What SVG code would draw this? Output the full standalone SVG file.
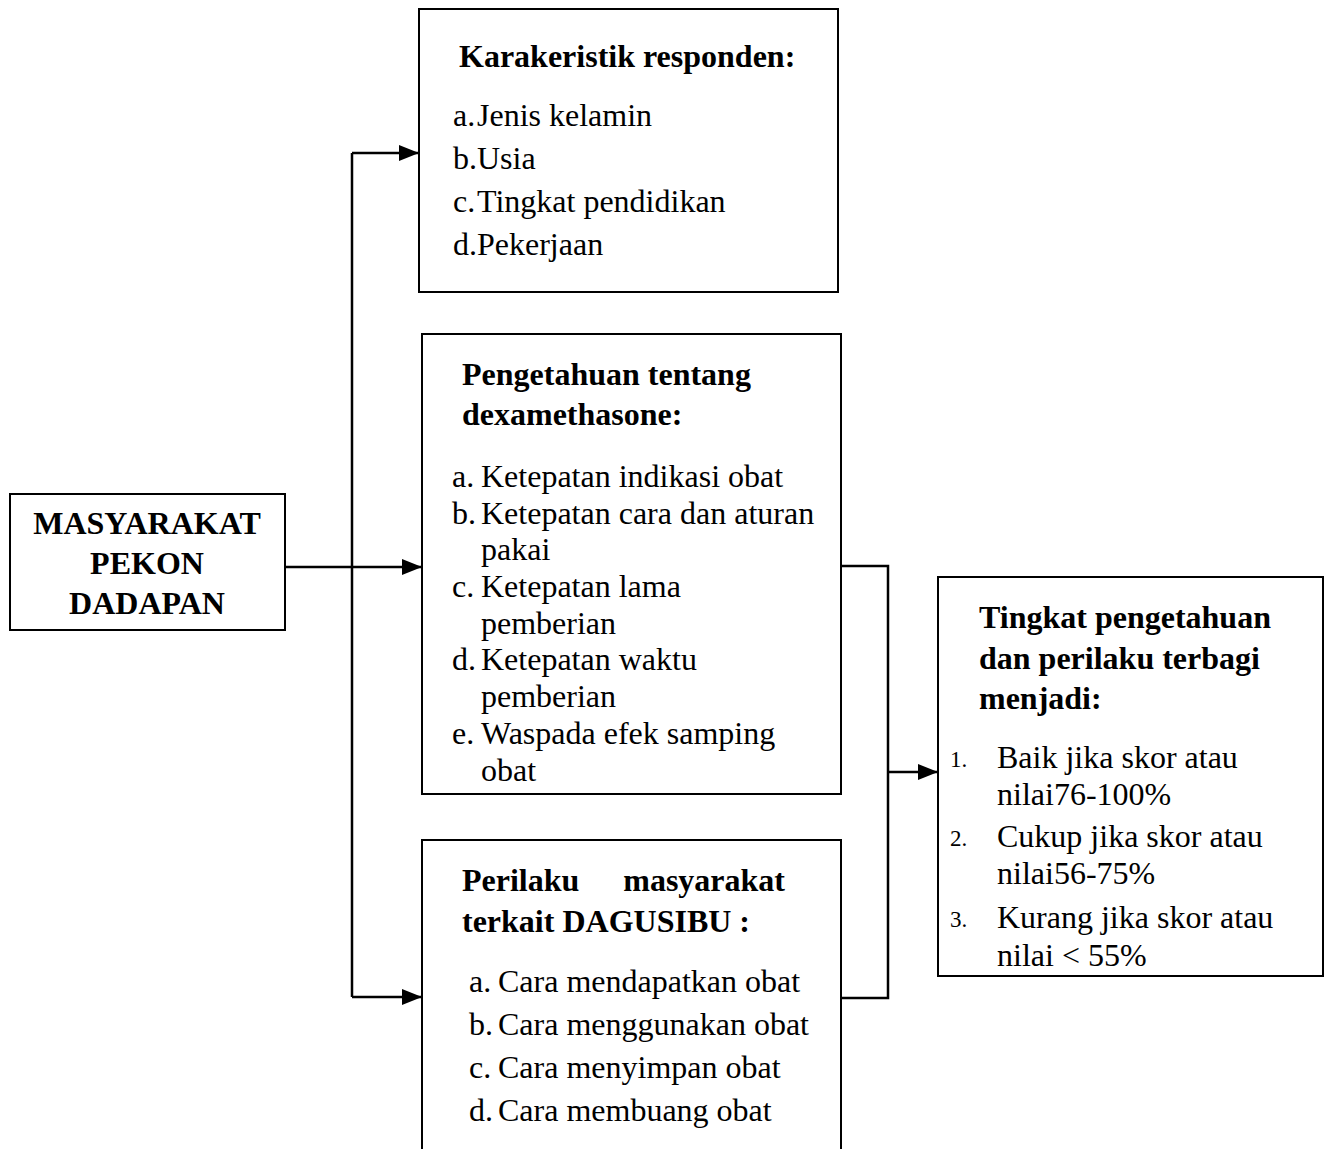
<svg xmlns="http://www.w3.org/2000/svg" width="1331" height="1149" viewBox="0 0 1331 1149">
<defs>
<style>
.box{fill:#fff;stroke:#000;stroke-width:2}
.t{font-family:"Liberation Serif","Times New Roman",serif;font-size:32px;fill:#000}
.b{font-weight:bold}
.n{font-size:23px}
.c{fill:none;stroke:#000;stroke-width:2.5}
</style>
<marker id="ah2" markerWidth="20" markerHeight="16" refX="20" refY="8" orient="auto" markerUnits="userSpaceOnUse" viewBox="0 0 20 16"><path d="M0,0 L20,8 L0,16 z" fill="#000"/></marker>
</defs>
<g id="connectors">
<path class="c" d="M352,153 V997"/>
<path class="c" d="M352,153 H419" marker-end="url(#ah2)"/>
<path class="c" d="M285,567 H422" marker-end="url(#ah2)"/>
<path class="c" d="M352,997 H422" marker-end="url(#ah2)"/>
<path class="c" d="M841,566 H888 V998 H841"/>
<path class="c" d="M888,772 H938" marker-end="url(#ah2)"/>
</g>
<g id="masyarakat">
<rect class="box" x="10" y="494" width="275" height="136"/>
<text class="t b" text-anchor="middle" x="147" y="534">MASYARAKAT</text>
<text class="t b" text-anchor="middle" x="147" y="574">PEKON</text>
<text class="t b" text-anchor="middle" x="147" y="614">DADAPAN</text>
</g>
<g id="karakteristik">
<rect class="box" x="419" y="9" width="419" height="283"/>
<text class="t b" x="459" y="67">Karakeristik responden:</text>
<text class="t" x="453" y="126">a.</text><text class="t" x="477" y="126">Jenis kelamin</text>
<text class="t" x="453" y="169">b.</text><text class="t" x="477" y="169">Usia</text>
<text class="t" x="453" y="212">c.</text><text class="t" x="477" y="212">Tingkat pendidikan</text>
<text class="t" x="453" y="255">d.</text><text class="t" x="477" y="255">Pekerjaan</text>
</g>
<g id="pengetahuan">
<rect class="box" x="422" y="334" width="419" height="460"/>
<text class="t b" x="462" y="385">Pengetahuan tentang</text>
<text class="t b" x="462" y="425">dexamethasone:</text>
<text class="t" x="452" y="487">a.</text><text class="t" x="481" y="487">Ketepatan indikasi obat</text>
<text class="t" x="452" y="524">b.</text><text class="t" x="481" y="524">Ketepatan cara dan aturan</text>
<text class="t" x="481" y="560">pakai</text>
<text class="t" x="452" y="597">c.</text><text class="t" x="481" y="597">Ketepatan lama</text>
<text class="t" x="481" y="634">pemberian</text>
<text class="t" x="452" y="670">d.</text><text class="t" x="481" y="670">Ketepatan waktu</text>
<text class="t" x="481" y="707">pemberian</text>
<text class="t" x="452" y="744">e.</text><text class="t" x="481" y="744">Waspada efek samping</text>
<text class="t" x="481" y="781">obat</text>
</g>
<g id="perilaku">
<rect class="box" x="422" y="840" width="419" height="320"/>
<text class="t b" x="462" y="891">Perilaku</text>
<text class="t b" x="785" y="891" text-anchor="end">masyarakat</text>
<text class="t b" x="462" y="932">terkait DAGUSIBU :</text>
<text class="t" x="469" y="992">a.</text><text class="t" x="498" y="992">Cara mendapatkan obat</text>
<text class="t" x="469" y="1035">b.</text><text class="t" x="498" y="1035">Cara menggunakan obat</text>
<text class="t" x="469" y="1078">c.</text><text class="t" x="498" y="1078">Cara menyimpan obat</text>
<text class="t" x="469" y="1121">d.</text><text class="t" x="498" y="1121">Cara membuang obat</text>
</g>
<g id="tingkat">
<rect class="box" x="938" y="577" width="385" height="399"/>
<text class="t b" x="979" y="628">Tingkat pengetahuan</text>
<text class="t b" x="979" y="669">dan perilaku terbagi</text>
<text class="t b" x="979" y="709">menjadi:</text>
<text class="t n" x="950" y="767">1.</text><text class="t" x="997" y="768">Baik jika skor atau</text>
<text class="t" x="997" y="805">nilai76-100%</text>
<text class="t n" x="950" y="846">2.</text><text class="t" x="997" y="847">Cukup jika skor atau</text>
<text class="t" x="997" y="884">nilai56-75%</text>
<text class="t n" x="950" y="927">3.</text><text class="t" x="997" y="928">Kurang jika skor atau</text>
<text class="t" x="997" y="966">nilai &lt; 55%</text>
</g>
</svg>
